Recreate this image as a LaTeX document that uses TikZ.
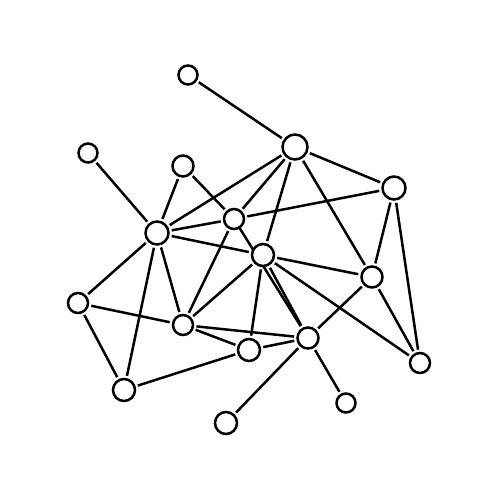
\documentclass[tikz,border=0pt]{standalone}
\usetikzlibrary{backgrounds}
\begin{document}
\begin{tikzpicture}[x=1pt,y=-1pt,
  nd/.style={circle,draw,line width=2.5pt,fill=white,inner sep=0pt,outer sep=3.5pt,minimum size=#1},
  nd/.default=19pt,
  ln/.style={line width=2.5pt}]
\useasboundingbox (0,0) rectangle (500,500);
\node[nd=19pt] (A) at (188,75) {};
\node[nd=25pt] (B) at (295,147) {};
\node[nd=19pt] (C) at (88,153) {};
\node[nd=21pt] (D) at (183,166) {};
\node[nd=23pt] (E) at (394,188) {};
\node[nd=23pt] (F) at (157,233) {};
\node[nd=20pt] (G) at (234,219) {};
\node[nd=22pt] (H) at (263,255) {};
\node[nd=21pt] (I) at (372,277) {};
\node[nd=20pt] (J) at (78,303) {};
\node[nd=20pt] (K) at (183,325) {};
\node[nd=22pt] (L) at (249,350) {};
\node[nd=21pt] (M) at (308,338) {};
\node[nd=20pt] (N) at (420,363) {};
\node[nd=22pt] (O) at (124,390) {};
\node[nd=22pt] (P) at (226,423) {};
\node[nd=19pt] (Q) at (346,403) {};
\begin{scope}[on background layer]
\draw[ln] (A) -- (B);
\draw[ln] (C) -- (F);
\draw[ln] (D) -- (F);
\draw[ln] (D) -- (G);
\draw[ln] (F) -- (B);
\draw[ln] (F) -- (G);
\draw[ln] (F) -- (H);
\draw[ln] (F) -- (J);
\draw[ln] (F) -- (K);
\draw[ln] (F) -- (O);
\draw[ln] (G) -- (B);
\draw[ln] (G) -- (E);
\draw[ln] (G.center) -- (M);
\draw[ln] (K) -- (G);
\draw[ln] (K) -- (H);
\draw[ln] (H) -- (B);
\draw[ln] (H) -- (I);
\draw[ln] (H) -- (N);
\draw[ln] (H) -- (M);
\draw[ln] (H) -- (L);
\draw[ln] (B) -- (E);
\draw[ln] (B) -- (I);
\draw[ln] (E) -- (I);
\draw[ln] (E) -- (N);
\draw[ln] (I) -- (N);
\draw[ln] (I) -- (M);
\draw[ln] (J) -- (K);
\draw[ln] (J) -- (O);
\draw[ln] (K) -- (L);
\draw[ln] (K) -- (M);
\draw[ln] (L) -- (M);
\draw[ln] (O) -- (L);
\draw[ln] (M) -- (P);
\draw[ln] (M) -- (Q);
\end{scope}
\end{tikzpicture}
\end{document}
